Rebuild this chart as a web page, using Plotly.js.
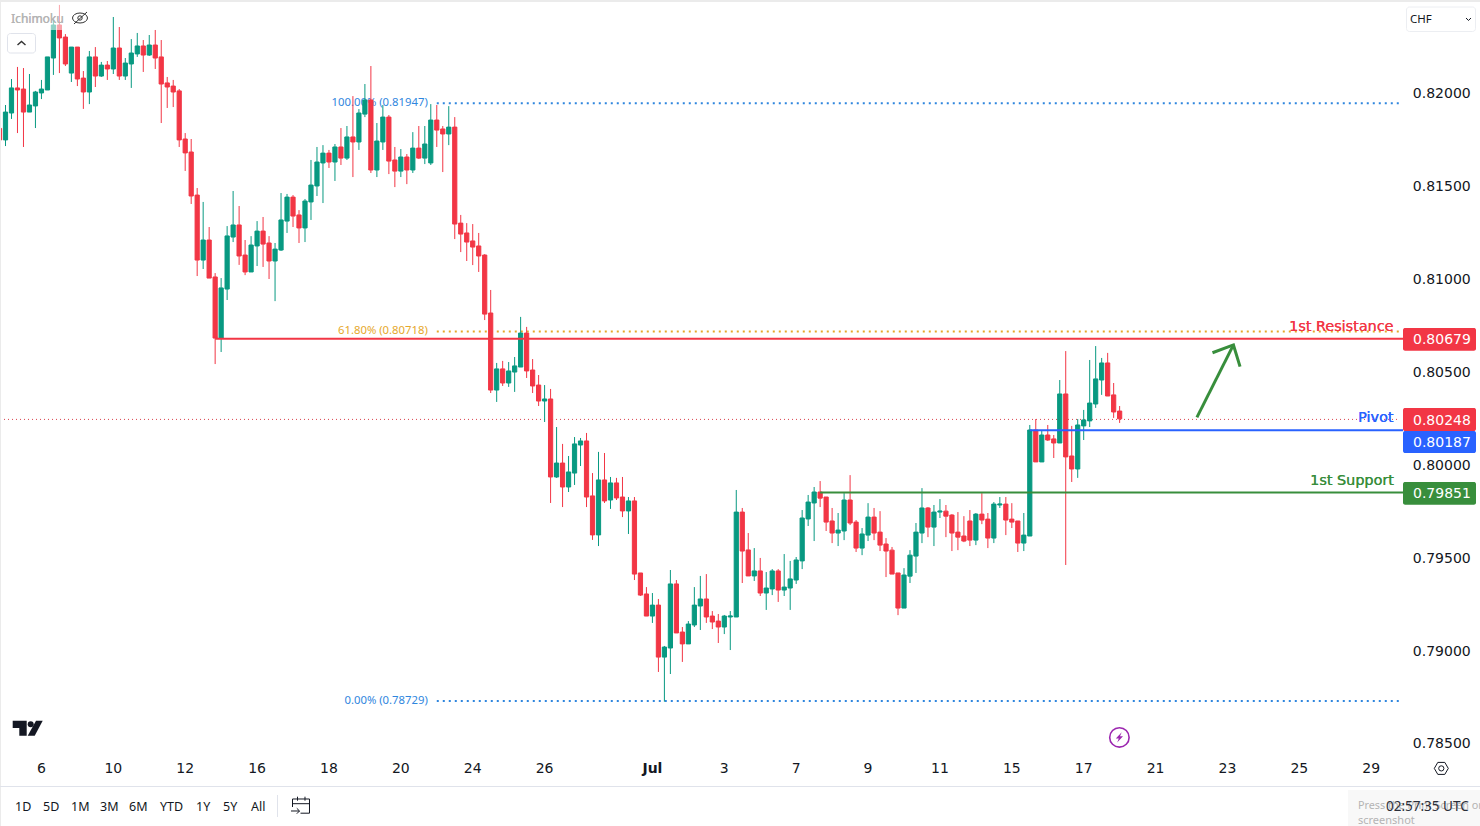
<!DOCTYPE html>
<html><head><meta charset="utf-8">
<script src="https://cdn.plot.ly/plotly-3.0.1.min.js"></script>
<style>html,body{margin:0;padding:0;background:#fff;overflow:hidden}#chart{width:1480px;height:826px}</style>
</head><body><div id="chart"></div>
<script>
// Prices are stored in 1e-5 points (0.81812 -> 81812); first candle is index -1.
const POINT = 1e-5;
const openPts = [81812,81750,81895,82030,82024,81900,81933,82003,82019,82191,82369,82304,82110,82250,82083,82008,82197,82094,82153,82132,82245,82094,82159,82213,82256,82207,82261,82197,82057,82040,82014,81755,81685,81453,81103,81211,81012,80683,80947,81227,81292,
81130,81039,81179,81259,81195,81098,81157,81313,81442,81346,81276,81416,81502,81626,81679,81631,81712,81652,81766,81739,81889,81965,81588,81739,81873,81642,81582,81658,81588,81706,81652,81626,81857,81809,81782,81819,81302,81249,81206,81179,81130,
80818,80403,80517,80441,80500,80527,80710,80511,80430,80344,80355,79935,80010,79881,79956,80107,80129,79833,79623,79919,79811,79903,79827,79752,79806,79418,79305,79186,79245,78965,79014,79359,79100,79036,79138,79240,79278,79186,79159,79127,79181,79181,79746,79542,79402,79429,79310,79332,79429,79326,79337,79380,79483,79709,79795,
79854,79827,79698,79633,79644,79811,79692,79552,79622,79719,79638,79574,79541,79418,79229,79401,79509,79633,79768,79665,79746,79751,79730,79638,79617,79698,79595,79735,79708,79606,79784,79789,79708,79698,79579,79617,80188,80016,80161,80140,80118,80382,80048,79978,80210,80237,80328,80457,80549,80377,80290];
const highPts = [81812,81938,82078,82143,82137,82105,82014,82073,82197,82396,82477,82320,82250,82250,82121,82229,82250,82170,82175,82412,82358,82191,82293,82326,82288,82315,82342,82288,82089,82073,82024,81787,81755,81491,81416,81281,81033,81006,81286,81475,81394,
81211,81232,81313,81335,81232,81195,81464,81459,81453,81372,81432,81642,81712,81722,81696,81728,81814,81825,81986,81916,82051,82148,81841,81938,81884,81712,81701,81674,81792,81825,81825,81943,81938,81825,81932,81873,81346,81302,81297,81249,81135,
80942,80549,80560,80554,80581,80797,80743,80570,80484,80430,80409,80204,80113,80048,80150,80145,80172,79956,80070,80064,79935,79930,79935,79827,79827,79418,79342,79310,79278,79025,79434,79380,79127,79159,79342,79402,79412,79213,79197,79192,79213,79865,79768,79633,79552,79499,79423,79439,79439,79520,79483,79504,79757,79838,79881,
79913,79827,79768,79741,79848,79945,79703,79660,79794,79768,79751,79606,79558,79418,79444,79541,79687,79875,79773,79784,79816,79784,79735,79746,79724,79757,79741,79848,79741,79800,79827,79827,79794,79698,79741,80215,80247,80183,80215,80161,80457,80613,80210,80247,80296,80565,80640,80576,80603,80441,80317];
const lowPts = [81750,81717,81863,81787,81712,81900,81814,81970,82019,82100,82110,82148,82062,82040,81917,81943,82035,82089,82073,82105,82073,82073,82030,82197,82116,82202,82132,81841,81922,81927,81712,81583,81405,81017,81055,81006,80543,80608,80888,81200,81077,
81022,81039,81071,81066,81001,80882,81152,81249,81281,81195,81200,81319,81448,81410,81599,81529,81615,81642,81550,81696,81873,81572,81550,81696,81566,81496,81550,81512,81572,81647,81620,81615,81712,81577,81722,81216,81146,81098,81076,81039,80780,
80387,80339,80425,80420,80393,80527,80468,80387,80317,80231,79795,79930,79773,79854,79892,79994,79773,79596,79563,79795,79763,79811,79719,79628,79380,79294,79186,79149,78885,78725,78874,79095,78939,79036,79127,79111,79149,79116,79041,79089,79003,79181,79364,79402,79375,79294,79219,79299,79262,79294,79219,79359,79439,79671,79590,
79773,79644,79579,79563,79595,79676,79531,79514,79590,79595,79536,79396,79412,79191,79229,79364,79418,79579,79611,79563,79714,79611,79536,79541,79584,79563,79568,79681,79552,79579,79768,79622,79660,79531,79536,79617,80016,80016,80129,80037,80118,79461,79908,79930,80134,80204,80307,80377,80371,80253,80226];
const closePts = [81750,81900,82030,82019,81900,81938,82008,82024,82197,82369,82299,82159,82250,82078,82008,82197,82094,82153,82132,82245,82094,82164,82218,82256,82207,82261,82191,82051,82035,82008,81750,81680,81448,81103,81211,81006,80683,80953,81233,81292,81125,
81039,81184,81259,81189,81098,81162,81319,81442,81340,81276,81421,81507,81631,81679,81631,81712,81652,81766,81739,81895,81965,81588,81744,81873,81636,81582,81658,81588,81706,81652,81728,81857,81803,81782,81819,81297,81243,81200,81173,81125,80812,
80403,80517,80441,80506,80533,80710,80506,80425,80344,80355,79935,80010,79881,79962,80113,80129,79827,79623,79919,79806,79903,79822,79752,79806,79412,79299,79186,79245,78965,79019,79359,79095,79036,79143,79245,79278,79181,79154,79127,79186,79186,79746,79536,79402,79429,79310,79337,79429,79326,79342,79386,79488,79714,79800,79854,
79821,79692,79633,79649,79811,79687,79552,79628,79719,79633,79568,79536,79412,79229,79407,79514,79638,79768,79665,79746,79751,79724,79633,79611,79590,79595,79735,79703,79606,79789,79789,79703,79692,79579,79622,80188,80016,80161,80134,80118,80382,80043,79978,80215,80242,80333,80463,80549,80371,80285,80248];

const xTickIndex = [6,18,30,42,54,66,78,90,108,120,132,144,156,168,180,192,204,216,228];
const xTickLabels = ['6','10','12','16','18','20','24','26','<b>Jul</b>','3','7','9','11','15','17','21','23','25','29'];
const yTicks = [0.82,0.815,0.81,0.805,0.80,0.795,0.79,0.785];

const fibLabels = ['100.00% (0.81947)','61.80% (0.80718)','0.00% (0.78729)'];
const fibLevels = [0.81947,0.80718,0.78729];
const fibColors = ['#2f86de','#e6a82a','#2f86de'];

const levelNames = ['1st Resistance','Pivot','1st Support'];
const levelValues = [0.80679,0.80187,0.79851];
const levelColors = ['#f23645','#2962ff','#388e3c'];
const levelStartIndex = [35,171,136];
const lastPrice = 0.80248;

const arrowShaftX = [198.9,205.0];
const arrowShaftY = [0.80256,0.80646];
const arrowHeadX = [201.5,205.0,206.1];
const arrowHeadY = [0.80604,0.80646,0.80529];

const rangeButtons = ['1D','5D','1M','3M','6M','YTD','1Y','5Y','All'];
const rangeCenters = [23,51,80,109,138,171,203,230,258];

// geometry of the screen
const W=1480,H=826,PW=1400,PH=755;
const candleStep=5.99, candleOrigin=5.5;
const xRange=[(0-candleOrigin)/candleStep,(PW-candleOrigin)/candleStep];
const yRange=[0.784378,0.825035];
const px=x=>x/PW, py=y=>1-y/PH;
const idxToPx=i=>candleOrigin+candleStep*i;
const pts=a=>a.map(v=>v*POINT);
const candleIndex=openPts.map((_,k)=>k-1);

function poly(list,closed){return 'M'+list.map(p=>px(p[0]).toFixed(6)+','+py(p[1]).toFixed(6)).join('L')+(closed?'Z':'');}
function ui(path,opt){return Object.assign({type:'path',xref:'paper',yref:'paper',path:path,layer:'above',line:{width:0}},opt);}
function line(list,color,width){return ui(poly(list,false),{line:{color:color,width:width},fillcolor:'rgba(0,0,0,0)'});}
function fillPoly(list,color){return ui(poly(list,true),{fillcolor:color,line:{width:0}});}
function rrect(x0,y0,x1,y1,r,fill,stroke){
  const p=[]; const n=5;
  const corners=[[x1-r,y0+r,-90],[x1-r,y1-r,0],[x0+r,y1-r,90],[x0+r,y0+r,180]];
  corners.forEach(c=>{for(let k=0;k<=n;k++){const a=(c[2]+k*90/n)*Math.PI/180;p.push([c[0]+r*Math.cos(a),c[1]+r*Math.sin(a)]);}});
  return ui(poly(p,true),{fillcolor:fill,line:stroke?{color:stroke,width:1}:{width:0}});
}
function circ(cx,cy,rx,ry,fill,stroke,w){return {type:'circle',xref:'paper',yref:'paper',x0:px(cx-rx),x1:px(cx+rx),y0:py(cy+ry),y1:py(cy-ry),fillcolor:fill,line:{color:stroke,width:w},layer:'above'};}
function rect(x0,y0,x1,y1,fill){return {type:'rect',xref:'paper',yref:'paper',x0:px(x0),x1:px(x1),y0:py(y1),y1:py(y0),fillcolor:fill,line:{width:0},layer:'above'};}
function label(text,x,y,anchor,size,color,family,shadow){const f={size:size,color:color,family:family};if(shadow)f.shadow=shadow;return {text:text,xref:'paper',yref:'paper',x:px(x),y:py(y),xanchor:anchor,yanchor:'middle',showarrow:false,font:f,borderpad:0};}

const DV='"DejaVu Sans"', NS='"Noto Sans"';
const shapes=[], annotations=[];

// Fibonacci dotted levels
fibLevels.forEach((v,k)=>shapes.push({type:'line',xref:'x',yref:'y',x0:72,x1:xRange[1],y0:v,y1:v,line:{color:fibColors[k],width:2,dash:'2px,4px'},layer:'below'}));
// last price dotted line, pixel-aligned just under the close
shapes.push({type:'line',xref:'x',yref:'y',x0:xRange[0],x1:xRange[1],y0:lastPrice-0.00003,y1:lastPrice-0.00003,line:{color:'#d9404c',width:1,dash:'1px,3px'},layer:'below'});
// level lines and tags
const tagY=[[328,350.7],[431,453],[482,504.7]];
levelValues.forEach((v,k)=>{
  shapes.push({type:'line',xref:'paper',yref:'y',x0:px(idxToPx(levelStartIndex[k])),x1:px(1403),y0:v,y1:v,line:{color:levelColors[k],width:2},layer:'above'});
  shapes.push(rrect(1403,tagY[k][0],1476,tagY[k][1],2,levelColors[k]));
  annotations.push(label(v.toFixed(5),1412,(tagY[k][0]+tagY[k][1])/2,'left',14,'#ffffff',DV));
});
shapes.push(rrect(1403,408,1476,431,2,'#f23645'));
annotations.push(label(lastPrice.toFixed(5),1412,419.5,'left',14,'#ffffff',DV));
// level names
const nameY=[326,417,480];
levelNames.forEach((n,k)=>annotations.push(label(n,1394.5,nameY[k],'right',14.4,levelColors[k],DV,'0.3px 0 0 '+levelColors[k])));
// arrow drawn in data space
shapes.push({type:'path',xref:'x',yref:'y',path:'M'+arrowShaftX[0]+','+arrowShaftY[0]+'L'+arrowShaftX[1]+','+arrowShaftY[1],line:{color:'#388e3c',width:3},layer:'above'});
shapes.push({type:'path',xref:'x',yref:'y',path:'M'+arrowHeadX.map((x,k)=>x+','+arrowHeadY[k]).join('L'),line:{color:'#388e3c',width:3},fillcolor:'rgba(0,0,0,0)',layer:'above'});

// top-left legend fade and icons
shapes.push(rect(0,3,64,30,'rgba(255,255,255,0.55)'));
annotations.push(label('Ichimoku',10,18.5,'left',12,'#b4b4b4',NS,'0.3px 0 0 #b4b4b4'));
shapes.push(circ(80,18,7.5,5,'rgba(0,0,0,0)','#333333',1));
shapes.push(circ(80,18,2.2,2.2,'rgba(0,0,0,0)','#333333',1));
shapes.push(line([[74,24],[87,12]],'#333333',1));
shapes.push(rrect(7.5,33.5,35.5,53,3,'#ffffff','#e0e3eb'));
shapes.push(line([[17.5,45],[21.5,41.5],[25.5,45]],'#333333',1.4));
// frame
shapes.push(rect(0,0,1480,2,'#ebebeb'));
shapes.push(rect(0,0,1,826,'#ebebeb'));
// CHF dropdown
shapes.push(rrect(1406.5,7,1475.5,31.5,3,'#ffffff','#eceef2'));
annotations.push(label('CHF',1409,18.5,'left',11.5,'#131722',NS));
shapes.push(line([[1466,18],[1468.5,20.5],[1471,18]],'#131722',1));
// TradingView logo
shapes.push(fillPoly([[12.7,720.7],[26.7,720.7],[26.7,735.7],[19.3,735.7],[19.3,728],[12.7,728]],'#131722'));
shapes.push(circ(30.7,724.3,3,3,'#131722','#131722',0));
shapes.push(fillPoly([[36,720.7],[42.7,720.7],[34.7,735.7],[27.7,735.7]],'#131722'));
// lightning badge
shapes.push(circ(1119.4,737.4,9.7,9.7,'#ffffff','#9c27b0',1.6));
shapes.push(fillPoly([[1121.7,732.3],[1115.8,738.6],[1118.8,738.6],[1117.2,742.4],[1123,736.3],[1120,736.3]],'#9c27b0'));
// settings hexagon
shapes.push(ui(poly([[1434.3,768.4],[1437.8,762.4],[1444.8,762.4],[1448.3,768.4],[1444.8,774.4],[1437.8,774.4]],true),{line:{color:'#131722',width:1},fillcolor:'rgba(0,0,0,0)'}));
shapes.push(circ(1441.3,768.4,2.6,2.6,'rgba(0,0,0,0)','#131722',1));
// toolbar
shapes.push(rect(0,786,1480,787,'#e0e3eb'));
shapes.push(rect(277,795,278,817,'#e0e3eb'));
rangeButtons.forEach((b,k)=>annotations.push(label(b,rangeCenters[k],806,'center',12.5,'#131722',NS)));
shapes.push(line([[292.5,807],[292.5,799],[309.5,799],[309.5,813.2],[300.5,813.2]],'#131722',1));
shapes.push(line([[292.5,803.7],[309.5,803.7]],'#131722',1));
shapes.push(line([[297.5,796.7],[297.5,800.7]],'#131722',1));
shapes.push(line([[305,796.7],[305,800.7]],'#131722',1));
shapes.push(line([[291,811],[299.5,811]],'#131722',1));
shapes.push(line([[296.8,808.3],[299.5,811],[296.8,813.7]],'#131722',1));
// print-screen hint behind clock
shapes.push(rect(1348,790,1480,826,'#f8f8f8'));
annotations.push(label('Press the Print Screen or',1357,804,'left',10.8,'#b4b4b4',NS));
annotations.push(label('screenshot',1357,819,'left',11,'#b4b4b4',NS));
annotations.push(label('02:57:35 UTC',1470,806,'right',13.5,'#2a2e39',NS));

const fibText={type:'scatter',mode:'text',xaxis:'x',yaxis:'y',x:fibLevels.map(()=>70.5),y:fibLevels,text:fibLabels,
  textposition:'middle left',textfont:{family:NS,size:11.3,color:fibColors},hoverinfo:'skip',showlegend:false,cliponaxis:false};
const candles={type:'candlestick',xaxis:'x2',yaxis:'y2',x:candleIndex,open:pts(openPts),high:pts(highPts),low:pts(lowPts),close:pts(closePts),
  increasing:{line:{color:'#089981',width:1},fillcolor:'#089981'},
  decreasing:{line:{color:'#f23645',width:1},fillcolor:'#f23645'},
  showlegend:false,hoverinfo:'skip'};

const layout={width:W,height:H,autosize:false,margin:{l:0,r:W-PW,t:0,b:H-PH,pad:0},
  paper_bgcolor:'#ffffff',plot_bgcolor:'#ffffff',showlegend:false,boxgap:0.3,boxgroupgap:0,
  font:{family:DV,size:14,color:'#131722'},
  xaxis:{type:'linear',range:xRange,showgrid:false,zeroline:false,showline:false,tickmode:'array',tickvals:xTickIndex,ticktext:xTickLabels,ticks:'',ticklabelstandoff:3,tickfont:{family:DV,size:14,color:'#131722'},fixedrange:true},
  yaxis:{type:'linear',range:yRange,side:'right',showgrid:false,zeroline:false,showline:false,tickmode:'array',tickvals:yTicks,ticktext:yTicks.map(v=>v.toFixed(5)),ticks:'outside',ticklen:9,tickcolor:'rgba(0,0,0,0)',tickfont:{family:DV,size:14,color:'#131722'},fixedrange:true},
  xaxis2:{type:'linear',range:xRange,overlaying:'x',visible:false,fixedrange:true,rangeslider:{visible:false}},
  yaxis2:{type:'linear',range:yRange,overlaying:'y',side:'right',visible:false,fixedrange:true},
  shapes:shapes,annotations:annotations};
Plotly.newPlot('chart',[fibText,candles],layout,{displayModeBar:false,staticPlot:true});
</script></body></html>
